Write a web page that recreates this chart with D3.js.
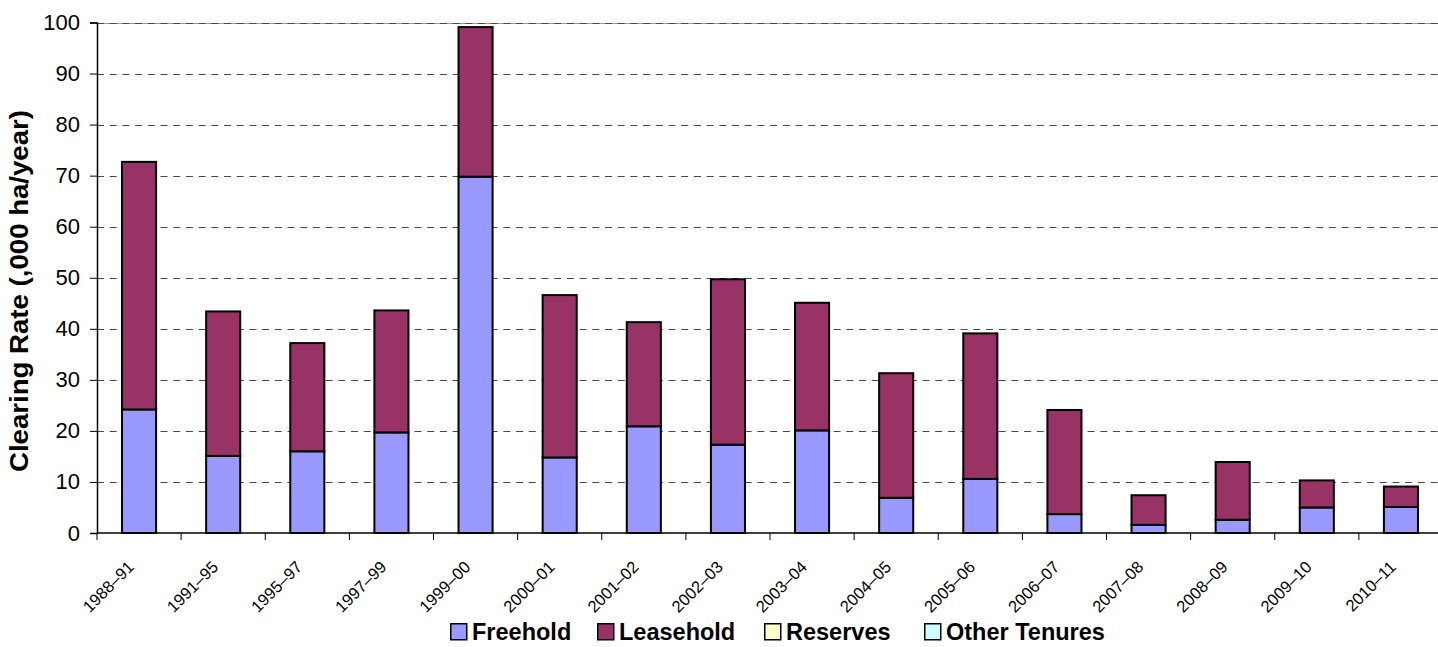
<!DOCTYPE html>
<html><head><meta charset="utf-8">
<script src="https://cdn.jsdelivr.net/npm/d3@7"></script>
<style>body{margin:0;background:#fff;overflow:hidden}svg{display:block;font-family:"Liberation Sans",Arial,sans-serif}</style>
</head><body><svg id="c" width="1438" height="647"></svg>
<script>
const categories = ["1988–91","1991–95","1995–97","1997–99","1999–00","2000–01","2001–02","2002–03","2003–04","2004–05","2005–06","2006–07","2007–08","2008–09","2009–10","2010–11"];
const freehold  = [24.2,15.1,16.0,19.7,69.8,14.8,20.9,17.3,20.1,6.9,10.6,3.7,1.6,2.6,5.0,5.1];
const leasehold = [48.5,28.3,21.2,23.9,29.3,31.8,20.4,32.4,25.0,24.4,28.5,20.4,5.8,11.3,5.3,4.0];
const reserves  = [0,0,0,0,0,0,0,0,0,0,0,0,0,0,0,0];
const otherTenures = [0,0,0,0,0,0,0,0,0,0,0,0,0,0,0,0];
const seriesNames = ["Freehold","Leasehold","Reserves","Other Tenures"];
const seriesColors = ["#9999FF","#993366","#FFFFCC","#CCFFFF"];
const yTicks = [0,10,20,30,40,50,60,70,80,90,100];

const svg = d3.select("#c");
const L = 97, R = 1443, T = 22.5, B = 533;
const x = d3.scaleBand().domain(categories).range([L,R]).paddingInner(0.595).paddingOuter(0.2975);
const xb = d3.scaleBand().domain(categories).range([L,R]);
const y = d3.scaleLinear().domain([0,100]).range([B,T]);

// gridlines
svg.append("line").attr("x1",L).attr("x2",R).attr("y1",Math.round(y(100))+0.5).attr("y2",Math.round(y(100))+0.5).attr("stroke","#999").attr("stroke-width",1);
svg.append("g").selectAll("line").data(yTicks.filter(d=>d>0)).join("line")
  .attr("x1",L).attr("x2",R).attr("y1",d=>Math.round(y(d))+0.5).attr("y2",d=>Math.round(y(d))+0.5)
  .attr("stroke","#4a4a4a").attr("stroke-width",1.2).attr("stroke-dasharray","7,5.7");

// y axis
const ya = svg.append("g").attr("transform",`translate(${L},0)`)
  .call(d3.axisLeft(y).tickValues(yTicks).tickSize(7).tickPadding(10));
ya.select(".domain").attr("stroke","#000").attr("stroke-width",1.5);
ya.selectAll(".tick line").attr("stroke","#000");
ya.selectAll("text").attr("font-size",22).attr("font-family","'Liberation Sans',Arial,sans-serif").attr("fill","#000");

// stacked bars
const rows = categories.map((c,i)=>({cat:c,Freehold:freehold[i],Leasehold:leasehold[i],Reserves:reserves[i],"Other Tenures":otherTenures[i]}));
const stack = d3.stack().keys(seriesNames)(rows);
svg.append("g").selectAll("g").data(stack).join("g").attr("fill",(d,i)=>seriesColors[i])
  .selectAll("rect").data(d=>d.filter(v=>v[1]-v[0]>0)).join("rect")
  .attr("x",d=>x(d.data.cat)).attr("width",x.bandwidth())
  .attr("y",d=>y(d[1])).attr("height",d=>y(d[0])-y(d[1]))
  .attr("stroke","#000").attr("stroke-width",2);

// x axis
const xa = svg.append("g").attr("transform",`translate(0,${B})`);
xa.append("line").attr("x1",L).attr("x2",R).attr("stroke","#000").attr("stroke-width",1.5);
xa.selectAll("line.t").data(categories).join("line").attr("class","t")
  .attr("x1",d=>xb(d)).attr("x2",d=>xb(d)).attr("y1",0).attr("y2",7).attr("stroke","#000");
xa.selectAll("text").data(categories).join("text")
  .attr("transform",d=>`translate(${xb(d)+xb.bandwidth()/2-4},${35}) rotate(-45)`)
  .attr("text-anchor","end").attr("font-size",16.5).attr("fill","#000").text(d=>d);

// y title
svg.append("text").attr("transform","translate(28,291) rotate(-90)").attr("text-anchor","middle")
  .attr("font-size",25).attr("font-weight","bold").attr("textLength",362).attr("lengthAdjust","spacingAndGlyphs")
  .text("Clearing Rate (,000 ha/year)");

// legend
const legX = [450,597,764,924];
const lg = svg.append("g").selectAll("g").data(seriesNames).join("g")
  .attr("transform",(d,i)=>`translate(${legX[i]},623)`);
lg.append("rect").attr("x",0.75).attr("y",0.75).attr("width",16).attr("height",16).attr("fill",(d,i)=>seriesColors[i]).attr("stroke","#000").attr("stroke-width",1.5);
lg.append("text").attr("x",22).attr("y",17).attr("font-size",23.5).attr("font-weight","bold").text(d=>d);
</script></body></html>
